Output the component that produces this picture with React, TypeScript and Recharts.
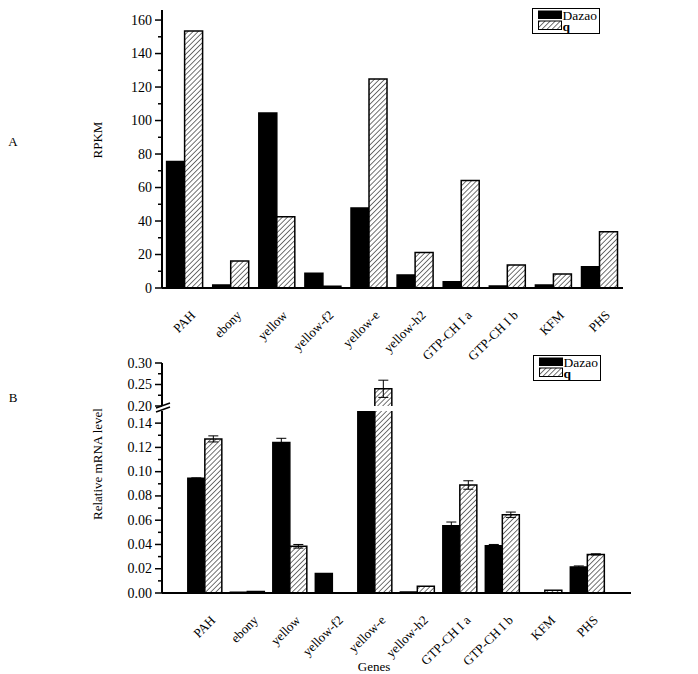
import { BarChart, Bar, XAxis, YAxis, ErrorBar, Legend } from "recharts";

const genes = [
  "PAH",
  "ebony",
  "yellow",
  "yellow-f2",
  "yellow-e",
  "yellow-h2",
  "GTP-CH I a",
  "GTP-CH I b",
  "KFM",
  "PHS",
];

// panel A, RPKM
const rpkmDazao = [75.5, 1.8, 104.5, 8.8, 47.8, 7.8, 3.8, 1.2, 1.8, 12.7];
const rpkmQ = [153.5, 16.1, 42.6, 1.0, 124.8, 21.2, 64.2, 13.8, 8.4, 33.6];
const rpkmTicks = [0, 10, 20, 30, 40, 50, 60, 70, 80, 90, 100, 110, 120, 130, 140, 150, 160];

// panel B, relative mRNA level (broken axis)
const mrnaDazao = [0.0945, 0.0006, 0.124, 0.016, 0.15, 0.0008, 0.0555, 0.039, 0, 0.0215];
const mrnaDazaoErr = [0.0004, 0, 0.0035, 0, 0, 0, 0.003, 0.001, 0, 0.0008];
const mrnaQ = [0.127, 0.0012, 0.0385, 0.0003, 0.24, 0.0055, 0.089, 0.0645, 0.0022, 0.0318];
const mrnaQErr = [0.0025, 0, 0.0015, 0, 0.02, 0, 0.0035, 0.0022, 0, 0.0005];
const lowTicks = [0, 0.01, 0.02, 0.03, 0.04, 0.05, 0.06, 0.07, 0.08, 0.09, 0.1, 0.11, 0.12, 0.13, 0.14];
const highTicks = [0.2, 0.225, 0.25, 0.275, 0.3];

const LOW_MAX = 0.15;
const HIGH_MIN = 0.2;

const FONT = '"Liberation Serif", "Times New Roman", serif';
const serif = { fontFamily: FONT };

const rpkmRows = genes.map((gene, i) => ({ gene, Dazao: rpkmDazao[i], q: rpkmQ[i] }));

const nz = (v: number) => (v > 0 ? v : undefined);

const lowRows = genes.map((gene, i) => ({
  gene,
  Dazao: mrnaDazao[i],
  q: mrnaQ[i],
  dErr: mrnaDazao[i] <= LOW_MAX ? nz(mrnaDazaoErr[i]) : undefined,
  qErr: mrnaQ[i] <= LOW_MAX ? nz(mrnaQErr[i]) : undefined,
}));

const highRows = genes.map((gene, i) => ({
  gene,
  Dazao: mrnaDazao[i] >= HIGH_MIN ? mrnaDazao[i] : null,
  q: mrnaQ[i] >= HIGH_MIN ? mrnaQ[i] : null,
  dErr: mrnaDazao[i] >= HIGH_MIN ? nz(mrnaDazaoErr[i]) : undefined,
  qErr: mrnaQ[i] >= HIGH_MIN ? nz(mrnaQErr[i]) : undefined,
}));

// open-bottom bar so the axis break stays clean
function BarShape(props: any) {
  const { x, y, width, height, fill } = props;
  if (!(height > 0) || !isFinite(y)) return null;
  return (
    <g>
      <rect x={x} y={y} width={width} height={height} fill={fill} />
      <path
        d={`M${x},${y + height}V${y}H${x + width}V${y + height}`}
        fill="none"
        stroke="#000"
        strokeWidth={1.5}
      />
    </g>
  );
}

function makeYTick(isMajor: (v: number) => boolean, fmt: (v: number) => string) {
  return function YTick(props: any) {
    const { x, y, payload } = props;
    const major = isMajor(payload.value);
    return (
      <g>
        <line x1={x - (major ? 7 : 4)} x2={x} y1={y} y2={y} stroke="#000" strokeWidth={1.5} />
        {major && (
          <text x={x - 10} y={y + 4.5} textAnchor="end" fill="#000" style={{ ...serif, fontSize: 14 }}>
            {fmt(payload.value)}
          </text>
        )}
      </g>
    );
  };
}

const RpkmTick = makeYTick((v) => v % 20 === 0, (v) => String(v));
const LowTick = makeYTick((v) => Math.round(v * 100) % 2 === 0, (v) => v.toFixed(2));
const HighTick = makeYTick((v) => Math.round(v * 1000) % 50 === 0, (v) => v.toFixed(2));

function GeneTick(props: any) {
  const { x, y, payload } = props;
  return (
    <text
      transform={`translate(${x + 11},${y + 28}) rotate(-45)`}
      textAnchor="end"
      fill="#000"
      style={{ ...serif, fontSize: 13 }}
    >
      {payload.value}
    </text>
  );
}

function LegendBox() {
  return (
    <svg width={68} height={26} style={{ display: "block" }}>
      <rect x={0.5} y={0.5} width={67} height={25} fill="#fff" stroke="#000" />
      <rect x={6} y={2.5} width={24} height={8.5} fill="#000" />
      <rect x={6.5} y={13} width={23} height={8.5} fill="url(#hatch)" stroke="#000" strokeWidth={1} />
      <text x={30.5} y={11.5} fill="#000" style={{ ...serif, fontSize: 13.5 }}>
        Dazao
      </text>
      <text x={30.5} y={22.5} fill="#000" style={{ ...serif, fontSize: 13.5, fontWeight: "bold" }}>
        q
      </text>
    </svg>
  );
}

const axisLine = { stroke: "#000", strokeWidth: 2 };

export default function App() {
  return (
    <div style={{ position: "absolute", left: 0, top: 0, width: 698, height: 674, background: "#fff", fontFamily: FONT }}>
      <svg width={0} height={0} style={{ position: "absolute" }}>
        <defs>
          <pattern id="hatch" width={3.6} height={3.6} patternUnits="userSpaceOnUse" patternTransform="rotate(45)">
            <rect width={3.6} height={3.6} fill="#fff" />
            <line x1={0} y1={0} x2={0} y2={3.6} stroke="#000" strokeWidth={1.1} />
          </pattern>
        </defs>
      </svg>

      {/* A */}
      <div style={{ position: "absolute", left: 0, top: 0 }}>
        <BarChart
          width={698}
          height={372}
          data={rpkmRows}
          margin={{ top: 10, right: 75, bottom: 0, left: 0 }}
          barCategoryGap="10%"
          barGap={0}
        >
          <XAxis dataKey="gene" height={84} interval={0} tickLine={false} tickSize={0} tickMargin={0} axisLine={axisLine} tick={<GeneTick />} />
          <YAxis
            width={162}
            domain={[0, 166]}
            ticks={rpkmTicks}
            interval={0}
            tickLine={false}
            tickSize={0}
            tickMargin={0}
            axisLine={axisLine}
            tick={<RpkmTick />}
          />
          <Legend content={<LegendBox />} layout="horizontal" verticalAlign="middle" align="center" wrapperStyle={{ left: 532, top: 8, width: 68, height: 26 }} />
          <Bar dataKey="Dazao" fill="#000" shape={<BarShape />} isAnimationActive={false} />
          <Bar dataKey="q" fill="url(#hatch)" shape={<BarShape />} isAnimationActive={false} />
        </BarChart>
      </div>

      {/* B, upper segment */}
      <div style={{ position: "absolute", left: 0, top: 340 }}>
        <BarChart
          width={698}
          height={78}
          data={highRows}
          margin={{ top: 23, right: 67, bottom: 12, left: 0 }}
          barCategoryGap="9%"
          barGap={0}
        >
          <XAxis dataKey="gene" hide padding={{ left: 22, right: 22 }} />
          <YAxis
            width={162}
            domain={[HIGH_MIN, 0.3]}
            allowDataOverflow
            ticks={highTicks}
            interval={0}
            tickLine={false}
            tickSize={0}
            tickMargin={0}
            axisLine={axisLine}
            tick={<HighTick />}
          />
          <Legend content={<LegendBox />} layout="horizontal" verticalAlign="middle" align="center" wrapperStyle={{ left: 533, top: 15, width: 68, height: 26 }} />
          <Bar dataKey="Dazao" fill="#000" shape={<BarShape />} isAnimationActive={false}>
            <ErrorBar dataKey="dErr" width={5} stroke="#000" strokeWidth={1} />
          </Bar>
          <Bar dataKey="q" fill="url(#hatch)" shape={<BarShape />} isAnimationActive={false}>
            <ErrorBar dataKey="qErr" width={5} stroke="#000" strokeWidth={1} />
          </Bar>
        </BarChart>
      </div>

      {/* B, lower segment */}
      <div style={{ position: "absolute", left: 0, top: 400 }}>
        <BarChart
          width={698}
          height={274}
          data={lowRows}
          margin={{ top: 11, right: 67, bottom: 0, left: 0 }}
          barCategoryGap="9%"
          barGap={0}
        >
          <XAxis
            dataKey="gene"
            height={81}
            interval={0}
            padding={{ left: 22, right: 22 }}
            tickLine={false}
            tickSize={0}
            tickMargin={0}
            axisLine={axisLine}
            tick={<GeneTick />}
          />
          <YAxis
            width={162}
            domain={[0, LOW_MAX]}
            allowDataOverflow
            ticks={lowTicks}
            interval={0}
            tickLine={false}
            tickSize={0}
            tickMargin={0}
            axisLine={axisLine}
            tick={<LowTick />}
          />
          <Bar dataKey="Dazao" fill="#000" shape={<BarShape />} isAnimationActive={false}>
            <ErrorBar dataKey="dErr" width={5} stroke="#000" strokeWidth={1} />
          </Bar>
          <Bar dataKey="q" fill="url(#hatch)" shape={<BarShape />} isAnimationActive={false}>
            <ErrorBar dataKey="qErr" width={5} stroke="#000" strokeWidth={1} />
          </Bar>
        </BarChart>
      </div>

      <svg width={698} height={674} style={{ position: "absolute", left: 0, top: 0, pointerEvents: "none" }}>
        <g fill="#000" style={{ ...serif, fontSize: 13 }}>
          <text x={13} y={146} textAnchor="middle">A</text>
          <text transform="translate(101.5,140) rotate(-90)" textAnchor="middle">RPKM</text>
          <text x={13} y={402} textAnchor="middle">B</text>
          <text transform="translate(101.5,464) rotate(-90)" textAnchor="middle">Relative mRNA level</text>
          <text x={374} y={671} textAnchor="middle">Genes</text>
        </g>
        {/* axis break marks */}
        <line x1={156} y1={408} x2={170} y2={403} stroke="#000" strokeWidth={1.5} />
        <line x1={156} y1={412} x2={170} y2={407} stroke="#000" strokeWidth={1.5} />
      </svg>
    </div>
  );
}
